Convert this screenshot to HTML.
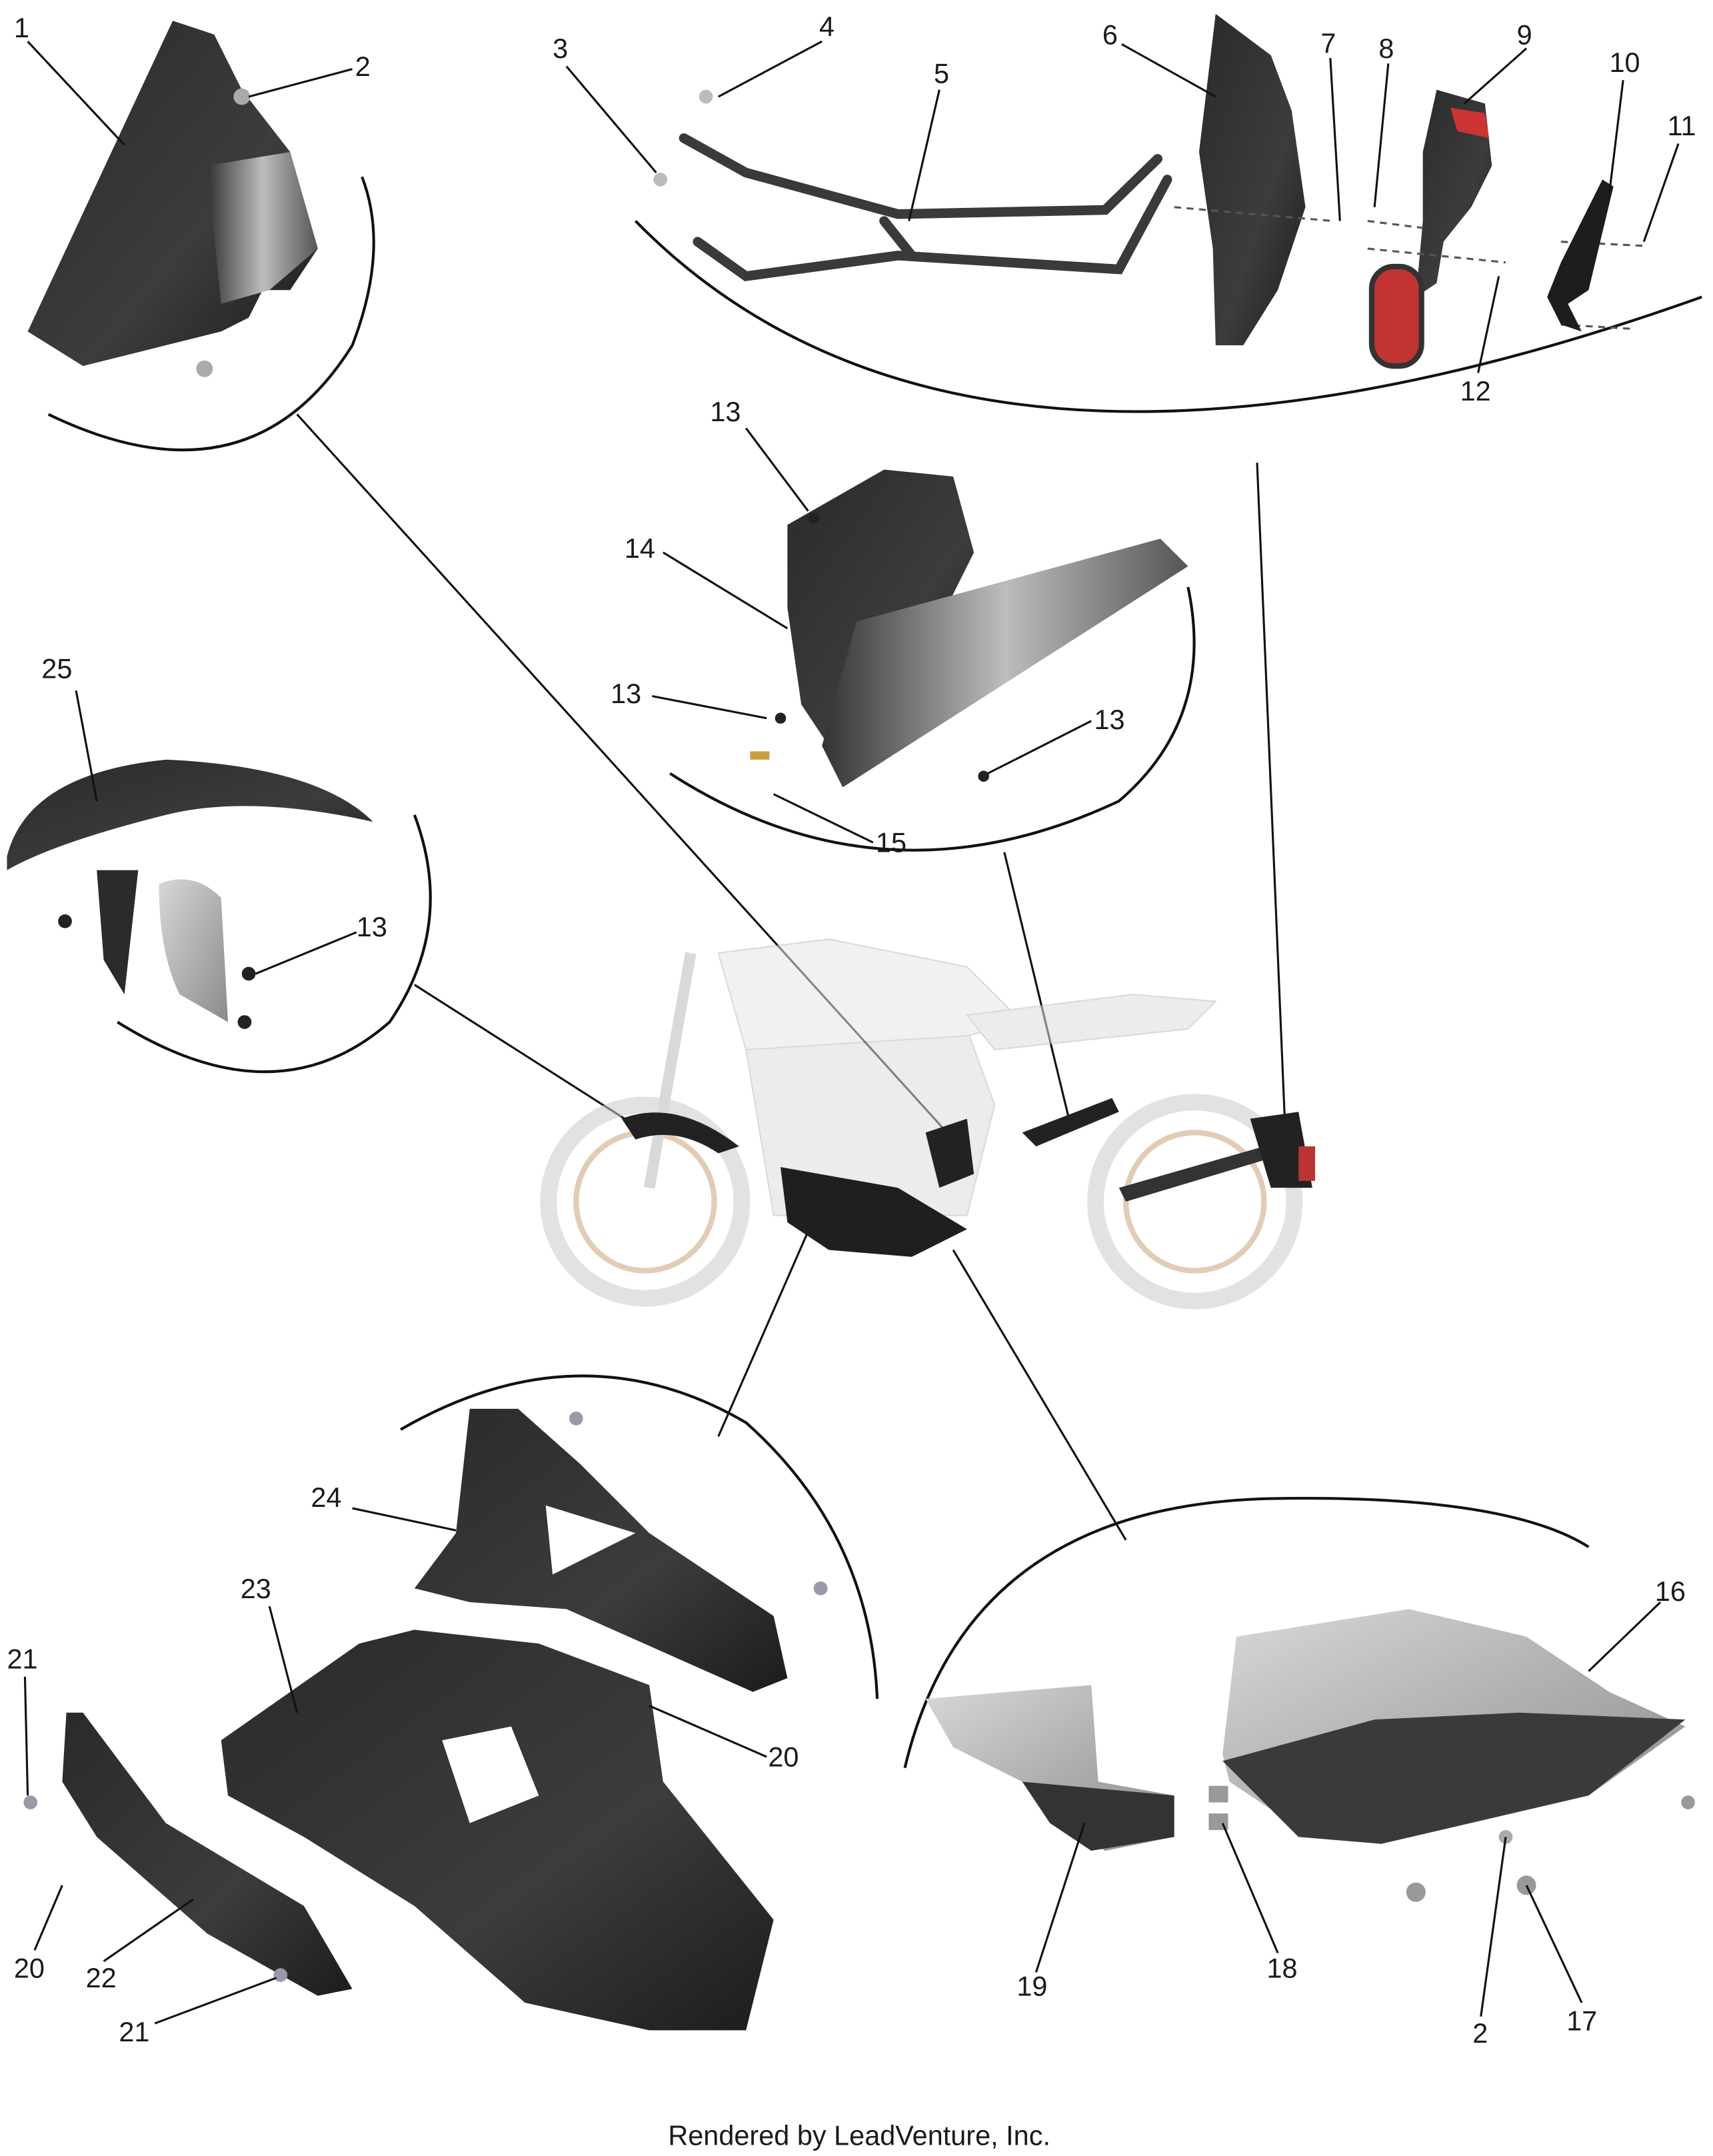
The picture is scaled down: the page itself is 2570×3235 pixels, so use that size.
<!DOCTYPE html>
<html><head><meta charset="utf-8"><style>
html,body{margin:0;padding:0;background:#fff;}
svg{display:block;}
text{font-family:"Liberation Sans",sans-serif;fill:#1a1a1a;}
</style></head><body>
<svg width="2570" height="3235" viewBox="0 0 1240 1561" xmlns="http://www.w3.org/2000/svg">
<defs>
<linearGradient id="dk" x1="0" y1="0" x2="1" y2="1"><stop offset="0" stop-color="#2a2a2a"/><stop offset="0.6" stop-color="#3c3c3c"/><stop offset="1" stop-color="#1c1c1c"/></linearGradient>
<linearGradient id="sh" x1="0" y1="0" x2="1" y2="0"><stop offset="0" stop-color="#333"/><stop offset="0.5" stop-color="#bdbdbd"/><stop offset="1" stop-color="#555"/></linearGradient>
<linearGradient id="lt" x1="0" y1="0" x2="1" y2="1"><stop offset="0" stop-color="#d8d8d8"/><stop offset="1" stop-color="#8a8a8a"/></linearGradient>
</defs>
<g fill="none" stroke="#111" stroke-width="2">
<path d="M35 300 Q180 370 255 250 Q282 180 262 128"/>
<path d="M460 160 Q700 405 1232 215"/>
<path d="M485 560 Q640 660 810 580 Q880 520 860 425"/>
<path d="M85 740 Q200 812 282 740 Q330 670 300 590"/>
<path d="M290 1035 Q420 960 540 1030 Q630 1110 635 1230"/>
<path d="M655 1280 Q700 1090 920 1085 Q1090 1082 1150 1120"/>
</g>
<g stroke="#111" stroke-width="1.5" fill="none">
<line x1="215" y1="300" x2="690" y2="825"/>
<line x1="910" y1="335" x2="930" y2="810"/>
<line x1="727" y1="617" x2="775" y2="815"/>
<line x1="300" y1="713" x2="460" y2="815"/>
<line x1="520" y1="1040" x2="590" y2="880"/>
<line x1="815" y1="1115" x2="690" y2="905"/>
</g>
<g opacity="0.55">
<circle cx="467" cy="870" r="70" fill="none" stroke="#ccc" stroke-width="12"/>
<circle cx="467" cy="870" r="50" fill="none" stroke="#c9a57a" stroke-width="4"/>
<circle cx="865" cy="870" r="72" fill="none" stroke="#ccc" stroke-width="12"/>
<circle cx="865" cy="870" r="50" fill="none" stroke="#c9a57a" stroke-width="4"/>
<path d="M540 760 L700 745 L720 800 L700 880 L560 880 Z" fill="#ddd" stroke="#bbb"/>
<path d="M520 690 L600 680 L700 700 L740 740 L700 750 L540 760 Z" fill="#e6e6e6" stroke="#bbb"/>
<path d="M700 735 L820 720 L880 725 L860 745 L720 760 Z" fill="#ddd" stroke="#bbb"/>
<path d="M500 690 L470 860" stroke="#bbb" stroke-width="8"/>
</g>
<path d="M450 810 Q490 795 535 830 L520 835 Q490 815 460 825 Z" fill="#222"/>
<path d="M565 845 L650 860 L700 890 L660 910 L600 905 L570 885 Z" fill="#1f1f1f"/>
<path d="M670 820 L700 810 L705 850 L680 860 Z" fill="#222"/>
<path d="M740 820 L805 795 L810 805 L750 830 Z" fill="#222"/>
<path d="M810 860 L915 830 L915 840 L815 870 Z" fill="#333"/>
<path d="M905 810 L940 805 L950 860 L920 860 Z" fill="#222"/>
<rect x="940" y="830" width="12" height="25" fill="#b33"/>
<!-- part 1 -->
<path d="M125 15 L155 25 L175 65 L210 110 L230 180 L210 210 L190 210 L180 230 L160 240 L100 255 L60 265 L20 240 Z" fill="url(#dk)"/>
<path d="M150 120 L210 110 L230 180 L195 210 L160 220 Z" fill="url(#sh)"/>
<circle cx="175" cy="70" r="6" fill="#aaa"/><circle cx="148" cy="267" r="6" fill="#aaa"/>
<!-- part 5 -->
<g fill="none" stroke="#3a3a3a" stroke-width="7" stroke-linecap="round">
<path d="M495 100 L540 125 L650 155 L800 152 L838 115"/>
<path d="M505 175 L540 200 L650 185 L810 195 L845 130"/>
<path d="M640 160 L660 185"/>
</g>
<circle cx="511" cy="70" r="5" fill="#bbb"/><circle cx="478" cy="130" r="5" fill="#bbb"/>
<!-- part 6 -->
<path d="M880 10 L920 40 L935 80 L945 150 L925 210 L900 250 L880 250 L878 180 L868 110 Z" fill="url(#dk)"/>
<!-- part 9 -->
<path d="M1040 65 L1075 75 L1080 120 L1065 150 L1045 175 L1040 205 L1025 215 L1030 160 L1030 110 Z" fill="url(#dk)"/>
<path d="M1050 78 L1075 82 L1078 100 L1055 95 Z" fill="#c33"/>
<rect x="993" y="193" width="36" height="72" rx="16" fill="#c23434" stroke="#333" stroke-width="4"/>
<g stroke="#555" stroke-width="1.5" stroke-dasharray="5,4"><line x1="850" y1="150" x2="965" y2="160"/><line x1="990" y1="160" x2="1030" y2="165"/><line x1="990" y1="180" x2="1090" y2="190"/><line x1="1130" y1="175" x2="1190" y2="178"/><line x1="1130" y1="235" x2="1180" y2="238"/></g>
<!-- part 10 -->
<path d="M1160 130 L1168 135 L1150 210 L1135 220 L1145 240 L1130 235 L1120 215 L1130 190 Z" fill="#1d1d1d"/>
<!-- part 14 -->
<path d="M570 380 L640 340 L690 345 L705 400 L680 450 L640 480 L600 540 L580 510 L570 440 Z" fill="url(#dk)"/>
<path d="M620 450 L840 390 L860 410 L610 570 L595 540 Z" fill="url(#sh)"/>
<circle cx="589" cy="375" r="4" fill="#222"/><circle cx="565" cy="520" r="4" fill="#222"/><circle cx="712" cy="562" r="4" fill="#222"/><rect x="543" y="544" width="14" height="6" fill="#c9a040"/>
<!-- part 25 -->
<path d="M5 620 Q20 560 120 550 Q230 555 270 595 Q180 575 120 590 Q40 610 5 630 Z" fill="url(#dk)"/>
<path d="M70 630 L100 630 L90 720 L75 695 Z" fill="#2b2b2b"/>
<path d="M115 640 Q140 630 160 650 L165 740 L130 720 Q115 690 115 640 Z" fill="url(#lt)"/>
<circle cx="47" cy="667" r="5" fill="#222"/><circle cx="180" cy="705" r="5" fill="#222"/><circle cx="177" cy="740" r="5" fill="#222"/>
<!-- part 24 -->
<path d="M340 1020 L375 1020 L420 1060 L470 1110 L560 1170 L570 1215 L545 1225 L410 1165 L340 1160 L300 1150 L330 1110 Z" fill="url(#dk)"/>
<path d="M395 1090 L460 1110 L400 1140 Z" fill="#fff"/>
<!-- part 23 -->
<path d="M160 1260 L260 1190 L300 1180 L390 1190 L470 1220 L480 1290 L560 1390 L540 1470 L470 1470 L380 1450 L300 1380 L220 1330 L165 1300 Z" fill="url(#dk)"/>
<path d="M320 1260 L370 1250 L390 1300 L340 1320 Z" fill="#fff"/>
<!-- part 22 -->
<path d="M48 1240 L60 1240 L120 1320 L220 1380 L255 1440 L230 1445 L150 1400 L70 1330 L45 1290 Z" fill="url(#dk)"/>
<circle cx="22" cy="1305" r="5" fill="#99a"/><circle cx="203" cy="1430" r="5" fill="#99a"/><circle cx="417" cy="1027" r="5" fill="#99a"/><circle cx="594" cy="1150" r="5" fill="#99a"/>
<!-- part 16 -->
<path d="M895 1185 L1020 1165 L1105 1185 L1165 1225 L1220 1250 L1150 1300 L1000 1330 L950 1330 L890 1290 L885 1270 Z" fill="url(#lt)"/>
<path d="M885 1275 L995 1245 L1100 1240 L1220 1245 L1150 1300 L1000 1335 L940 1330 Z" fill="#3a3a3a"/>
<circle cx="1090" cy="1330" r="5" fill="#aaa"/><circle cx="1105" cy="1365" r="7" fill="#999"/><circle cx="1025" cy="1370" r="7" fill="#999"/><circle cx="1222" cy="1305" r="5" fill="#999"/>
<!-- part 19 -->
<path d="M670 1230 L790 1220 L795 1290 L850 1300 L850 1330 L800 1340 L770 1320 L740 1290 L690 1265 Z" fill="url(#lt)"/>
<path d="M740 1290 L850 1300 L850 1330 L790 1340 L760 1320 Z" fill="#333"/>
<rect x="875" y="1293" width="14" height="12" fill="#999"/><rect x="875" y="1313" width="14" height="12" fill="#999"/>
<g font-size="20">
<text x="10" y="27">1</text><text x="257" y="55">2</text><text x="400" y="42">3</text><text x="593" y="26">4</text>
<text x="676" y="60">5</text><text x="798" y="32">6</text><text x="956" y="38">7</text><text x="998" y="42">8</text>
<text x="1098" y="32">9</text><text x="1165" y="52">10</text><text x="1207" y="98">11</text><text x="1057" y="290">12</text>
<text x="514" y="305">13</text><text x="452" y="404">14</text><text x="442" y="509">13</text><text x="792" y="528">13</text>
<text x="634" y="617">15</text><text x="30" y="491">25</text><text x="258" y="678">13</text>
<text x="225" y="1091">24</text><text x="174" y="1157">23</text><text x="5" y="1208">21</text><text x="556" y="1279">20</text>
<text x="10" y="1432">20</text><text x="62" y="1439">22</text><text x="86" y="1478">21</text>
<text x="1198" y="1159">16</text><text x="736" y="1445">19</text><text x="917" y="1432">18</text><text x="1066" y="1479">2</text><text x="1134" y="1470">17</text>
</g>
<g stroke="#111" stroke-width="1.5">
<line x1="20" y1="30" x2="90" y2="105"/><line x1="255" y1="50" x2="180" y2="70"/><line x1="410" y1="48" x2="475" y2="125"/>
<line x1="595" y1="30" x2="520" y2="70"/><line x1="680" y1="65" x2="658" y2="160"/><line x1="812" y1="32" x2="880" y2="70"/>
<line x1="963" y1="42" x2="970" y2="160"/><line x1="1005" y1="46" x2="995" y2="150"/><line x1="1105" y1="35" x2="1060" y2="75"/>
<line x1="1175" y1="58" x2="1165" y2="140"/><line x1="1215" y1="104" x2="1190" y2="175"/><line x1="1070" y1="270" x2="1085" y2="200"/>
<line x1="540" y1="310" x2="585" y2="370"/><line x1="480" y1="400" x2="570" y2="455"/><line x1="472" y1="504" x2="555" y2="520"/>
<line x1="790" y1="522" x2="715" y2="560"/><line x1="632" y1="610" x2="560" y2="575"/><line x1="55" y1="500" x2="70" y2="580"/>
<line x1="258" y1="675" x2="185" y2="705"/><line x1="255" y1="1092" x2="330" y2="1108"/><line x1="195" y1="1163" x2="215" y2="1240"/>
<line x1="18" y1="1214" x2="20" y2="1300"/><line x1="555" y1="1272" x2="470" y2="1235"/><line x1="25" y1="1412" x2="45" y2="1365"/>
<line x1="75" y1="1420" x2="140" y2="1375"/><line x1="112" y1="1465" x2="200" y2="1432"/><line x1="1202" y1="1160" x2="1150" y2="1210"/>
<line x1="750" y1="1428" x2="785" y2="1320"/><line x1="925" y1="1414" x2="885" y2="1320"/><line x1="1072" y1="1460" x2="1090" y2="1330"/>
<line x1="1145" y1="1450" x2="1105" y2="1365"/>
</g>
<text x="622" y="1553" font-size="20" text-anchor="middle">Rendered by LeadVenture, Inc.</text>
</svg>
</body></html>
